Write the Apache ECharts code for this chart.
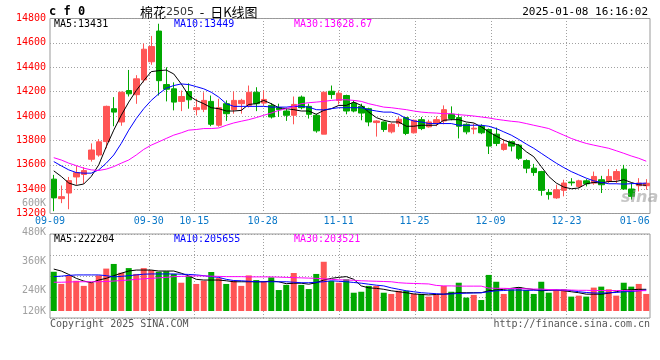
<!DOCTYPE html>
<html><head><meta charset="utf-8">
<script src="https://cdn.jsdelivr.net/npm/echarts@6/dist/echarts.min.js"></script>
<style>html,body{margin:0;padding:0;background:#fff}#c{width:660px;height:360px}#tmp{width:660px;height:360px;position:absolute;left:-3000px;top:0}</style>
</head><body><div id="c"></div><div id="tmp"></div>
<script>
const dates = ['09-09','09-10','09-11','09-12','09-13','09-18','09-19','09-20','09-23','09-24','09-25','09-26','09-27','09-30',
'10-08','10-09','10-10','10-11','10-14','10-15','10-16','10-17','10-18','10-21','10-22','10-23','10-24','10-25',
'10-28','10-29','10-30','10-31','11-01','11-04','11-05','11-06','11-07','11-08','11-11','11-12','11-13','11-14','11-15',
'11-18','11-19','11-20','11-21','11-22','11-25','11-26','11-27','11-28','11-29','12-02','12-03','12-04','12-05','12-06',
'12-09','12-10','12-11','12-12','12-13','12-16','12-17','12-18','12-19','12-20','12-23','12-24','12-25','12-26','12-27',
'12-30','12-31','01-02','01-03','01-06','01-07','01-08'];
const opens  = [13482,13322,13368,13500,13520,13645,13680,13790,14060,13951,14209,14175,14296,14445,14697,14258,14223,14120,14201,14052,
14055,14120,13924,14101,14052,14101,14087,14195,14106,14087,14068,14041,14006,14155,14079,14006,13851,14203,14128,14168,
14106,14079,14060,13946,13951,13870,13938,13987,13862,13970,13911,13938,13959,14014,13987,13932,13893,13916,13889,13851,
13726,13789,13761,13634,13572,13544,13373,13328,13390,13458,13422,13468,13450,13477,13463,13477,13564,13401,13428,13428];
const closes = [13328,13338,13470,13535,13552,13721,13788,14079,14032,14195,14182,14305,14548,14570,14290,14220,14114,14160,14133,14068,
14128,13932,14068,14019,14128,14128,14195,14101,14136,13992,14052,14006,14095,14068,14014,13878,14195,14176,14187,14041,
14041,14024,13951,13959,13889,13932,13973,13857,13965,13897,13951,13970,14052,13979,13916,13870,13900,13862,13753,13775,
13770,13753,13653,13572,13536,13390,13355,13395,13450,13452,13468,13444,13504,13436,13504,13544,13401,13341,13450,13448];
const lows   = [13219,13285,13235,13435,13445,13626,13666,13735,13916,13920,14160,14100,14275,14420,14168,14120,14046,14040,14060,14005,
14032,13916,13912,13960,14019,14019,14070,14040,14087,13979,13992,13960,13932,14055,13979,13863,13851,14141,14095,14014,
14030,13965,13916,13831,13870,13857,13911,13843,13857,13884,13905,13916,13932,13965,13816,13850,13851,13851,13688,13753,
13715,13710,13639,13531,13509,13346,13314,13320,13341,13428,13409,13422,13436,13368,13450,13450,13395,13314,13381,13395];
const highs  = [13517,13430,13500,13590,13580,13775,13810,14085,14155,14200,14378,14335,14595,14657,14757,14400,14276,14209,14268,14141,
14195,14168,14141,14128,14201,14141,14250,14236,14209,14106,14101,14068,14160,14168,14101,14019,14200,14250,14209,14175,
14128,14101,14068,13965,13955,13943,13992,13992,13970,13992,13970,13997,14087,14079,14019,13940,13938,13932,13897,13905,
13808,13795,13770,13645,13607,13550,13401,13436,13477,13490,13477,13482,13544,13509,13564,13564,13599,13450,13490,13482];
const ma5  = [13550,13504,13450,13430,13442,13504,13599,13748,13884,14006,14114,14209,14290,14364,14372,14377,14345,14263,14168,14128,
14101,14068,14060,14041,14041,14046,14095,14101,14128,14101,14068,14060,14052,14041,14041,14014,14046,14060,14087,14087,
14114,14087,14032,13987,13965,13951,13951,13916,13916,13924,13924,13924,13965,13970,13970,13951,13943,13911,13870,13835,
13802,13780,13761,13707,13666,13585,13504,13450,13417,13403,13409,13444,13455,13450,13463,13463,13477,13455,13436,13431];
const ma10 = [13626,13591,13558,13536,13531,13531,13558,13613,13680,13775,13884,13979,14060,14128,14182,14228,14250,14263,14258,14241,
14223,14195,14155,14101,14079,14079,14079,14079,14079,14073,14073,14073,14079,14079,14073,14052,14050,14060,14068,14068,
14068,14068,14052,14041,14032,14032,14014,13979,13959,13951,13938,13938,13938,13938,13924,13924,13924,13924,13916,13897,
13870,13843,13808,13770,13735,13694,13653,13613,13577,13544,13517,13490,13468,13455,13444,13444,13441,13445,13447,13449];
const ma30 = [13658,13639,13613,13593,13572,13558,13553,13564,13585,13613,13639,13680,13726,13761,13788,13816,13843,13862,13884,13889,
13897,13897,13902,13924,13943,13957,13970,13987,14006,14024,14046,14060,14079,14101,14109,14114,14120,14128,14133,14133,
14128,14120,14101,14087,14073,14068,14060,14052,14041,14032,14027,14024,14019,14019,14011,14006,14000,13992,13984,13973,
13965,13957,13951,13938,13924,13911,13897,13870,13843,13816,13794,13775,13761,13748,13735,13715,13694,13672,13653,13629];
const volumes = [281000,231000,266000,244000,223000,236000,266000,294000,313000,277000,296000,272000,296000,288000,281000,283000,272000,236000,264000,231000,
244000,280000,255000,231000,244000,223000,266000,247000,240000,258000,206000,227000,276000,227000,210000,272000,322000,243000,236000,250000,
195000,199000,223000,223000,195000,190000,203000,203000,190000,190000,179000,186000,223000,199000,236000,175000,186000,165000,268000,240000,
190000,209000,217000,206000,190000,240000,195000,206000,209000,179000,183000,179000,216000,220000,209000,183000,236000,220000,231000,190000];
const volMa5 = [292000,284000,270000,254000,243000,236000,247000,254000,265000,275000,284000,288000,288000,288000,284000,284000,284000,275000,264000,250000,
247000,247000,247000,244000,240000,240000,240000,240000,240000,243000,240000,232000,234000,234000,230000,236000,247000,254000,258000,261000,
250000,223000,215000,213000,209000,203000,199000,195000,190000,188000,186000,188000,189000,192000,195000,195000,195000,195000,203000,206000,
209000,213000,217000,212000,208000,203000,205000,206000,203000,199000,195000,189000,189000,189000,193000,199000,206000,207000,209000,209000];
const volMa10 = [261000,263000,266000,268000,268000,268000,268000,265000,260000,262000,265000,268000,271000,272000,272000,272000,272000,271000,270000,268000,
265000,261000,258000,250000,245000,244000,242000,240000,240000,240000,240000,240000,238000,236000,236000,238000,240000,244000,242000,240000,
237000,234000,230000,226000,223000,215000,209000,203000,199000,195000,193000,191000,189000,190000,192000,193000,194000,195000,199000,203000,
204000,206000,206000,205000,205000,206000,206000,206000,206000,204000,199000,196000,194000,193000,195000,196000,199000,200000,203000,206000];
const volMa30 = [238000,238000,239000,240000,240000,240000,240000,241000,243000,245000,247000,250000,252000,254000,256000,258000,261000,262000,263000,264000,
264000,263000,262000,261000,261000,261000,260000,260000,260000,260000,259000,258000,257000,256000,255000,254000,252000,250000,248000,247000,
246000,244000,243000,242000,241000,240000,236000,234000,233000,232000,231000,225000,223000,223000,222000,222000,222000,222000,214000,213000,
213000,212000,212000,211000,210000,210000,208000,207000,206000,206000,205000,205000,204000,204000,204000,204000,204000,203000,203000,203500];
const priceMin = 13200, priceMax = 14800, priceStep = 200;
const volTickValues = [120000,240000,360000,480000,600000];
const dateLabelIdx = [0,13,19,28,38,48,58,68,77];
const dateGridIdx = [13,19,28,38,48,58,68];
const legendPrice = {ma5:'13431', ma10:'13449', ma30:'13628.67'};
const legendVol = {ma5:'222204', ma10:'205655', ma30:'203521'};
const titleText = {code:'c f 0', name:'棉花', contract:'2505', rest:'  -  日K线图', time:'2025-01-08 16:16:02'};

const UP = '#ff5555', DOWN = '#00a800';
const MONO = "'DejaVu Sans Mono', monospace";
const GRIDC = '#a0a0a0';
const dotted = {show:true, lineStyle:{color:GRIDC, type:[1,2], width:1}};

const candleData = dates.map((d,i)=>[opens[i],closes[i],lows[i],highs[i]]);
const volData = volumes.map((v,i)=>({value:v, itemStyle:{color: closes[i] >= opens[i] ? UP : DOWN}}));
const volMin = volTickValues[0], volMax = volTickValues[volTickValues.length-1];
const volStep = volTickValues[1]-volTickValues[0];

const hidden = () => ({axisLine:{show:false}, axisTick:{show:false}, axisLabel:{show:false}, splitLine:{show:false}});
const lineS = (name, data, color, xi, yi) => ({name, type:'line', data, xAxisIndex:xi, yAxisIndex:yi, showSymbol:false, symbol:'none',
  lineStyle:{color, width:1}, itemStyle:{color}, z:5, silent:true});

const texts = [
  {type:'text', x:49, y:12, style:{text:titleText.code, fill:'#000', font:"bold 12px 'DejaVu Sans Mono', monospace", verticalAlign:'middle'}},
  {type:'text', x:140, y:12, style:{text:'{cn|'+titleText.name+'}{num|'+titleText.contract+'}{cn|'+titleText.rest+'}', verticalAlign:'middle',
    rich:{cn:{fill:'#000', font:"13px 'Noto Sans CJK SC'"}, num:{fill:'#333', font:"11px 'DejaVu Sans'"}}}},
  {type:'text', x:648, y:12, style:{text:titleText.time, fill:'#000', font:"11px 'DejaVu Sans Mono', monospace", align:'right', verticalAlign:'middle'}},
  {type:'text', x:54, y:24, style:{text:'MA5:'+legendPrice.ma5, fill:'#000', font:"10px 'DejaVu Sans Mono', monospace", verticalAlign:'middle'}},
  {type:'text', x:174, y:24, style:{text:'MA10:'+legendPrice.ma10, fill:'#0000ff', font:"10px 'DejaVu Sans Mono', monospace", verticalAlign:'middle'}},
  {type:'text', x:294, y:24, style:{text:'MA30:'+legendPrice.ma30, fill:'#ff00ff', font:"10px 'DejaVu Sans Mono', monospace", verticalAlign:'middle'}},
  {type:'text', x:54, y:239, style:{text:'MA5:'+legendVol.ma5, fill:'#000', font:"10px 'DejaVu Sans Mono', monospace", verticalAlign:'middle'}},
  {type:'text', x:174, y:239, style:{text:'MA10:'+legendVol.ma10, fill:'#0000ff', font:"10px 'DejaVu Sans Mono', monospace", verticalAlign:'middle'}},
  {type:'text', x:294, y:239, style:{text:'MA30:'+legendVol.ma30, fill:'#ff00ff', font:"10px 'DejaVu Sans Mono', monospace", verticalAlign:'middle'}},
  {type:'text', x:50, y:324, style:{text:'Copyright 2025 SINA.COM', fill:'#555', font:"10px 'DejaVu Sans Mono', monospace", verticalAlign:'middle'}},
  {type:'text', x:650, y:324, style:{text:'http://finance.sina.com.cn', fill:'#555', font:"10px 'DejaVu Sans Mono', monospace", align:'right', verticalAlign:'middle'}},
  {type:'text', x:621, y:198, z:10, style:{text:'sina', fill:'rgba(150,150,150,0.55)', font:"italic bold 16px 'DejaVu Sans'", verticalAlign:'middle'}}
];

function buildOption(graphicEls) {
  return {
    animation:false,
    backgroundColor:'#fff',
    grid:[
      {left:50, width:600, top:18.5, height:195, show:true, borderColor:'#999', borderWidth:1, backgroundColor:'transparent'},
      {left:50, width:600, top:194, height:117, show:false},
      {left:50, width:600, top:234, height:84, show:true, borderColor:'#999', borderWidth:1, backgroundColor:'transparent'}
    ],
    xAxis:[
      Object.assign({type:'category', gridIndex:0, data:dates, boundaryGap:true, position:'bottom'}, hidden()),
      {type:'category', gridIndex:0, data:dates, boundaryGap:false, position:'bottom', axisLine:{show:false}, axisTick:{show:false},
        axisLabel:{show:true, interval:(i)=>dateLabelIdx.includes(i), color:'#0a78c8', fontFamily:MONO, fontSize:10, margin:3},
        splitLine:{show:false}},
      Object.assign({type:'category', gridIndex:1, data:dates, boundaryGap:true, position:'bottom'}, hidden()),
      Object.assign({type:'category', gridIndex:2, data:dates, boundaryGap:false, position:'bottom'}, hidden())
    ],
    yAxis:[
      {type:'value', gridIndex:0, position:'left', min:priceMin, max:priceMax, interval:priceStep, axisLine:{show:false}, axisTick:{show:false},
        axisLabel:{color:'#ff0000', fontFamily:MONO, fontSize:10, margin:4, formatter:(v)=>String(v)}, splitLine:dotted},
      {type:'value', gridIndex:1, position:'left', min:volMin, max:volMax, interval:volStep, startValue:volMin, axisLine:{show:false}, axisTick:{show:false},
        axisLabel:{color:'#a0a0a0', fontFamily:MONO, fontSize:10, margin:4, verticalAlign:'top', padding:[4,0,0,0], showMinLabel:false,
          formatter:(v)=> v===volMin ? '' : (v/1000)+'K'}, splitLine:{show:false}},
      {type:'value', gridIndex:1, position:'left', offset:0, min:volMin, max:volMax, interval:volStep, axisLine:{show:false}, axisTick:{show:false},
        axisLabel:{color:'#a0a0a0', fontFamily:MONO, fontSize:10, margin:4, verticalAlign:'middle', showMinLabel:true,
          formatter:(v)=> v===volMin ? (v/1000)+'K' : ''}, splitLine:{show:false}},
      {type:'value', gridIndex:2, position:'left', min:0, max:4, interval:1, axisLine:{show:false}, axisTick:{show:false}, axisLabel:{show:false}, splitLine:dotted}
    ],
    series:[
      {type:'candlestick', xAxisIndex:0, yAxisIndex:0, data:candleData, barWidth:6, silent:true, z:3,
        itemStyle:{color:UP, color0:DOWN, borderColor:UP, borderColor0:DOWN, borderWidth:1}},
      lineS('MA5', ma5, '#000000', 0, 0),
      lineS('MA10', ma10, '#0000ff', 0, 0),
      lineS('MA30', ma30, '#ff00ff', 0, 0),
      {type:'bar', xAxisIndex:2, yAxisIndex:1, data:volData, barWidth:6, silent:true, clip:true, z:3},
      lineS('VMA5', volMa5, '#000000', 2, 1),
      lineS('VMA10', volMa10, '#0000ff', 2, 1),
      lineS('VMA30', volMa30, '#ff00ff', 2, 1)
    ],
    graphic: graphicEls
  };
}

// measure category positions with the library's own scale on an off-screen twin chart
const probe = echarts.init(document.getElementById('tmp'), null, {renderer:'canvas'});
probe.setOption(buildOption(texts));
const vDots = [];
const panes = [{xAxisIndex:1, top:19, bottom:213}, {xAxisIndex:3, top:234, bottom:318}];
panes.forEach(p => {
  dateGridIdx.forEach(i => {
    const px = probe.convertToPixel({xAxisIndex:p.xAxisIndex}, dates[i]);
    if (typeof px === 'number' && isFinite(px)) {
      const x = Math.round(px);
      for (let y = p.top + 2; y < p.bottom; y += 3) {
        vDots.push({type:'rect', silent:true, z:1, shape:{x:x, y:y, width:1, height:1}, style:{fill:'#a0a0a0'}});
      }
    }
  });
});
probe.dispose();

// draw the real chart in a single setOption, dotted vertical grid included from the start
const chart = echarts.init(document.getElementById('c'), null, {renderer:'canvas'});
chart.setOption(buildOption(vDots.concat(texts)));
</script></body></html>
